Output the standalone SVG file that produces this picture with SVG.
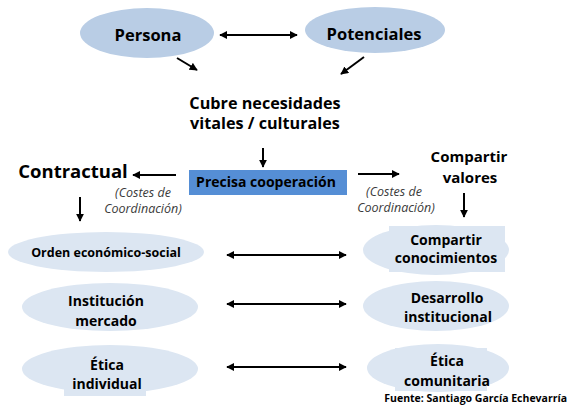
<svg xmlns="http://www.w3.org/2000/svg" width="567" height="408" viewBox="0 0 567 408">
<defs>
<marker id="ah" viewBox="0 0 10 10" refX="9" refY="5" markerWidth="4" markerHeight="4" orient="auto-start-reverse" markerUnits="strokeWidth">
<path d="M0,0 L10,5 L0,10 z" fill="#000"/>
</marker>
</defs>
<style>
.top{fill:#b9cde5}
.bot{fill:#dce6f2}
.t{font-family:"Open Sans","Liberation Sans",sans-serif;font-weight:bold;fill:#000;text-anchor:middle}
.c{font-family:"Open Sans","Liberation Sans",sans-serif;font-style:italic;fill:#3a3a3a;font-size:12.5px;text-anchor:middle}
.ln{stroke:#000;stroke-width:2;fill:none;marker-end:url(#ah)}
.dl{stroke:#000;stroke-width:2;fill:none;marker-end:url(#ah);marker-start:url(#ah)}
</style>
<g id="persona">
<ellipse class="top" cx="147" cy="33" rx="67" ry="25"/>
<text class="t" x="148" y="41" font-size="16.5">Persona</text>
</g>
<g id="potenciales">
<ellipse class="top" cx="375" cy="30" rx="70" ry="23"/>
<text class="t" x="374" y="40" font-size="16.5">Potenciales</text>
</g>
<g id="cubre">
<text class="t" font-size="16.2"><tspan x="265" y="109">Cubre necesidades</tspan><tspan x="265" y="129">vitales / culturales</tspan></text>
</g>
<g id="precisa">
<rect x="189" y="170" width="158" height="25" fill="#558ed5"/>
<text class="t" x="266" y="187" font-size="14">Precisa cooperación</text>
</g>
<g id="contractual">
<text class="t" x="73" y="178" font-size="18.5">Contractual</text>
</g>
<g id="costes-izq">
<text class="c"><tspan x="143" y="197">(Costes de</tspan><tspan x="143" y="213">Coordinación)</tspan></text>
</g>
<g id="compartir-valores">
<text class="t" font-size="15"><tspan x="469" y="162">Compartir</tspan><tspan x="470" y="183">valores</tspan></text>
</g>
<g id="costes-der">
<text class="c"><tspan x="394" y="196">(Costes de</tspan><tspan x="396" y="212">Coordinación)</tspan></text>
</g>
<g id="orden">
<ellipse class="bot" cx="106" cy="252" rx="98" ry="20"/>
<text class="t" x="106" y="257" font-size="12.5">Orden económico-social</text>
</g>
<g id="compartir-conocimientos">
<ellipse class="bot" cx="436" cy="250" rx="73" ry="25"/>
<rect class="bot" x="389" y="226" width="116" height="46"/>
<text class="t" font-size="14"><tspan x="446" y="245">Compartir</tspan><tspan x="446" y="263">conocimientos</tspan></text>
</g>
<g id="institucion">
<ellipse class="bot" cx="110" cy="307" rx="88" ry="24"/>
<text class="t" font-size="14"><tspan x="106" y="306">Institución</tspan><tspan x="106" y="326">mercado</tspan></text>
</g>
<g id="desarrollo">
<ellipse class="bot" cx="436" cy="306" rx="73" ry="25"/>
<text class="t" font-size="14"><tspan x="447" y="303">Desarrollo</tspan><tspan x="448" y="322">institucional</tspan></text>
</g>
<g id="etica-individual">
<ellipse class="bot" cx="110" cy="369" rx="88" ry="24"/>
<rect class="bot" x="64" y="378" width="82" height="18"/>
<text class="t" font-size="14"><tspan x="107" y="370">Ética</tspan><tspan x="107" y="389">individual</tspan></text>
</g>
<g id="etica-comunitaria">
<ellipse class="bot" cx="438" cy="368" rx="71" ry="24"/>
<rect class="bot" x="395" y="348" width="92" height="43"/>
<text class="t" font-size="14"><tspan x="447" y="366">Ética</tspan><tspan x="447" y="386">comunitaria</tspan></text>
</g>
<g id="fuente">
<text x="567" y="402" font-family="'Open Sans','Liberation Sans',sans-serif" font-weight="bold" font-size="10.5" text-anchor="end" fill="#000">Fuente: Santiago García Echevarría</text>
</g>
<g id="connectors">
<line class="dl" x1="220" y1="35" x2="297" y2="35"/>
<line class="ln" x1="177" y1="58" x2="197" y2="70"/>
<line class="ln" x1="364" y1="57" x2="341" y2="74"/>
<line class="ln" x1="263" y1="148" x2="263" y2="167"/>
<line class="ln" x1="176" y1="175" x2="133" y2="175"/>
<line class="ln" x1="358" y1="174" x2="399" y2="174"/>
<line class="ln" x1="80" y1="197" x2="80" y2="221"/>
<line class="ln" x1="464" y1="193" x2="464" y2="217"/>
<line class="dl" x1="227" y1="255" x2="346" y2="255"/>
<line class="dl" x1="227" y1="304" x2="346" y2="304"/>
<line class="dl" x1="227" y1="367" x2="346" y2="367"/>
</g>
</svg>
